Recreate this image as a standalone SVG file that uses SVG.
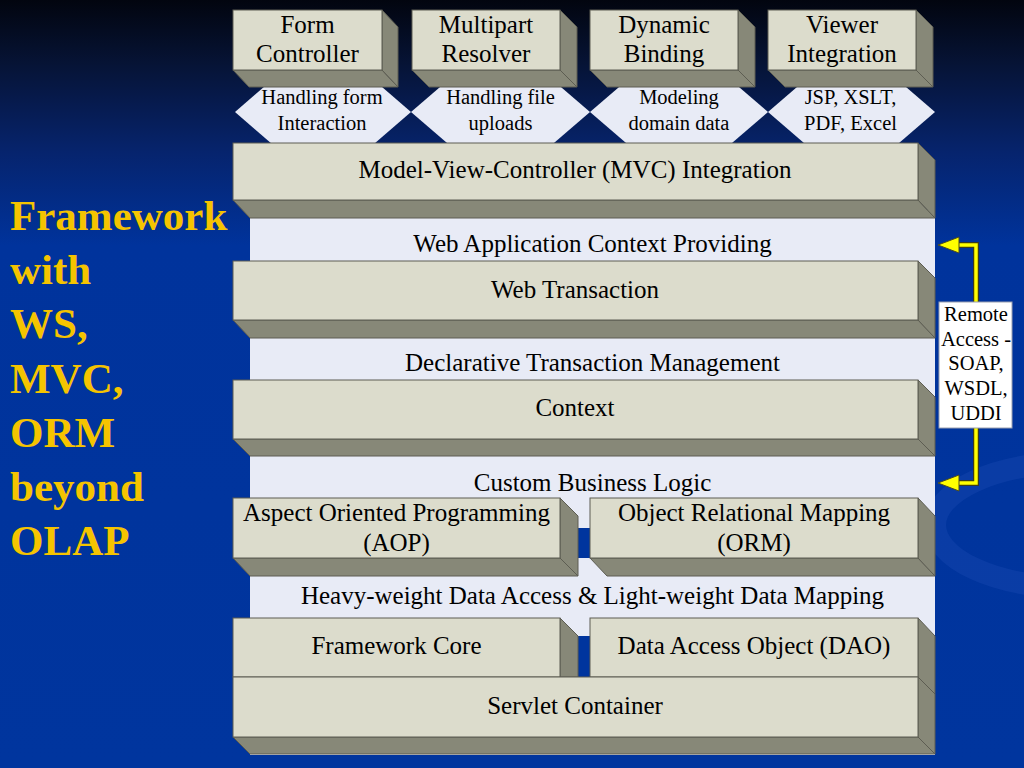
<svg xmlns="http://www.w3.org/2000/svg" width="1024" height="768" viewBox="0 0 1024 768">
<defs>
<linearGradient id="bg" x1="0" y1="0" x2="0" y2="1">
<stop offset="0" stop-color="#02050f"/>
<stop offset="0.08" stop-color="#061334"/>
<stop offset="0.2" stop-color="#06246e"/>
<stop offset="0.32" stop-color="#00339c"/>
<stop offset="1" stop-color="#00359e"/>
</linearGradient>
<marker id="ah" markerUnits="userSpaceOnUse" viewBox="0 0 23 20" refX="1" refY="10" markerWidth="23" markerHeight="20" orient="auto">
<path d="M1,2 L22,10 L1,18 z" fill="#ffff00" stroke="#4a4a20" stroke-width="1"/>
</marker>
<style>
.face{fill:#dcdccc;stroke:#5d5d52;stroke-width:1}
.side{fill:#878878;stroke:#5d5d52;stroke-width:1}
.dia{fill:#e8ebf6}
.t{font-family:"Liberation Serif","Times New Roman",serif;font-size:25px;fill:#000;text-anchor:middle}
.d{font-family:"Liberation Serif","Times New Roman",serif;font-size:20.5px;fill:#000;text-anchor:middle}
.title{font-family:"Liberation Serif","Times New Roman",serif;font-size:43px;font-weight:bold;fill:#f5c400}
.lineo{fill:none;stroke:#3c3c1a;stroke-width:6}
.linei{fill:none;stroke:#ffff00;stroke-width:3.5}
</style>
</defs>
<rect width="1024" height="768" fill="url(#bg)"/>
<ellipse cx="1070" cy="525" rx="135" ry="62" fill="none" stroke="#1c4cb4" stroke-width="22" opacity="0.35"/>
<rect x="250" y="210" width="685" height="545" fill="#e8ebf6"/>
<rect x="578" y="528" width="12" height="30" fill="#00359e"/>
<rect x="578" y="636" width="12" height="41" fill="#00359e"/>

<g id="title">
<text class="title" x="10" y="230">Framework</text>
<text class="title" x="10" y="284">with</text>
<text class="title" x="10" y="338">WS,</text>
<text class="title" x="10" y="393">MVC,</text>
<text class="title" x="10" y="447">ORM</text>
<text class="title" x="10" y="501">beyond</text>
<text class="title" x="10" y="555">OLAP</text>
</g>

<g id="diamonds">
<polygon class="dia" points="235,112 323,36 411,112 323,188"/>
<polygon class="dia" points="411,112 500.5,35 590,112 500.5,189"/>
<polygon class="dia" points="590,112 679,35.5 768,112 679,188.5"/>
<polygon class="dia" points="768,112 851.5,40 935,112 851.5,184"/>
</g>

<g id="form-controller">
<polygon class="side" points="233,70 382,70 398,87 249,87"/>
<polygon class="side" points="382,10 398,27 398,87 382,70"/>
<rect class="face" x="233" y="10" width="149" height="60"/>
<text class="t" x="307.5" y="33">Form</text>
<text class="t" x="307.5" y="62">Controller</text>
</g>
<g id="multipart-resolver">
<polygon class="side" points="412,70 560,70 577,87 429,87"/>
<polygon class="side" points="560,10 577,27 577,87 560,70"/>
<rect class="face" x="412" y="10" width="148" height="60"/>
<text class="t" x="486" y="33">Multipart</text>
<text class="t" x="486" y="62">Resolver</text>
</g>
<g id="dynamic-binding">
<polygon class="side" points="590,70 738,70 755,87 607,87"/>
<polygon class="side" points="738,10 755,27 755,87 738,70"/>
<rect class="face" x="590" y="10" width="148" height="60"/>
<text class="t" x="664" y="33">Dynamic</text>
<text class="t" x="664" y="62">Binding</text>
</g>
<g id="viewer-integration">
<polygon class="side" points="768,70 916,70 933,87 785,87"/>
<polygon class="side" points="916,10 933,27 933,87 916,70"/>
<rect class="face" x="768" y="10" width="148" height="60"/>
<text class="t" x="842" y="33">Viewer</text>
<text class="t" x="842" y="62">Integration</text>
</g>

<g id="diamond-labels">
<text class="d" x="322" y="104">Handling form</text>
<text class="d" x="322" y="130">Interaction</text>
<text class="d" x="500.5" y="104">Handling file</text>
<text class="d" x="500.5" y="130">uploads</text>
<text class="d" x="679" y="104">Modeling</text>
<text class="d" x="679" y="130">domain data</text>
<text class="d" x="850.5" y="104">JSP, XSLT,</text>
<text class="d" x="850.5" y="130">PDF, Excel</text>
</g>

<g id="mvc">
<polygon class="side" points="233,200 918,200 935,218 250,218"/>
<polygon class="side" points="918,143 935,160 935,218 918,200"/>
<rect class="face" x="233" y="143" width="685" height="57"/>
<text class="t" x="575" y="178">Model-View-Controller (MVC) Integration</text>
</g>

<g id="panel-labels">
<text class="t" x="592.5" y="252">Web Application Context Providing</text>
<text class="t" x="592.5" y="371">Declarative Transaction Management</text>
<text class="t" x="592.5" y="491">Custom Business Logic</text>
<text class="t" x="592.5" y="604">Heavy-weight Data Access &amp; Light-weight Data Mapping</text>
</g>

<g id="web-transaction">
<polygon class="side" points="233,320 918,320 935,338 250,338"/>
<polygon class="side" points="918,261 935,278 935,338 918,320"/>
<rect class="face" x="233" y="261" width="685" height="59"/>
<text class="t" x="575" y="298">Web Transaction</text>
</g>

<g id="context">
<polygon class="side" points="233,439 918,439 935,456 250,456"/>
<polygon class="side" points="918,380 935,397 935,456 918,439"/>
<rect class="face" x="233" y="380" width="685" height="59"/>
<text class="t" x="575" y="416">Context</text>
</g>

<g id="aop">
<polygon class="side" points="233,558 560,558 578,576 250,576"/>
<polygon class="side" points="560,498 578,516 578,576 560,558"/>
<rect class="face" x="233" y="498" width="327" height="60"/>
<text class="t" x="396.5" y="521">Aspect Oriented Programming</text>
<text class="t" x="396.5" y="551">(AOP)</text>
</g>

<g id="orm">
<polygon class="side" points="590,558 918,558 935,576 607,576"/>
<polygon class="side" points="918,498 935,516 935,576 918,558"/>
<rect class="face" x="590" y="498" width="328" height="60"/>
<text class="t" x="754" y="521">Object Relational Mapping</text>
<text class="t" x="754" y="551">(ORM)</text>
</g>

<g id="framework-core">
<polygon class="side" points="560,618 578,636 578,677 560,677"/>
<rect class="face" x="233" y="618" width="327" height="59"/>
<text class="t" x="396.5" y="654">Framework Core</text>
</g>

<g id="dao">
<polygon class="side" points="918,618 935,636 935,694 918,677"/>
<rect class="face" x="590" y="618" width="328" height="59"/>
<text class="t" x="754" y="654">Data Access Object (DAO)</text>
</g>

<g id="servlet-container">
<polygon class="side" points="233,737 918,737 935,754 250,754"/>
<polygon class="side" points="918,677 935,694 935,754 918,737"/>
<rect class="face" x="233" y="677" width="685" height="60"/>
<text class="t" x="575" y="714">Servlet Container</text>
</g>

<g id="connectors">
<path class="lineo" d="M976,302 V245 H959"/>
<path class="linei" d="M976,302 V245 H959" marker-end="url(#ah)"/>
<path class="lineo" d="M976,428 V483 H959"/>
<path class="linei" d="M976,428 V483 H959" marker-end="url(#ah)"/>
</g>

<g id="remote-access">
<rect x="939" y="302" width="73" height="126" fill="#ffffff" stroke="#9aa0b0" stroke-width="1"/>
<text class="d" x="976" y="321">Remote</text>
<text class="d" x="976" y="346">Access -</text>
<text class="d" x="976" y="370">SOAP,</text>
<text class="d" x="976" y="395">WSDL,</text>
<text class="d" x="976" y="420">UDDI</text>
</g>
</svg>
